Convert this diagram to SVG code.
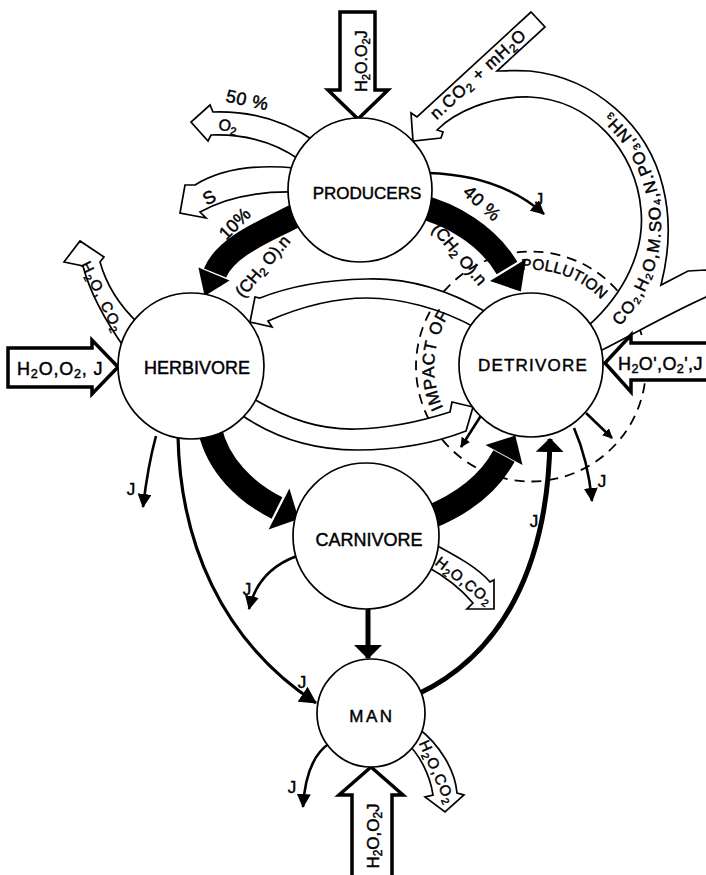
<svg xmlns="http://www.w3.org/2000/svg" width="706" height="875" viewBox="0 0 706 875">
<style>
text{font-family:"Liberation Sans",Arial,"DejaVu Sans",sans-serif;fill:#000;stroke:#000;stroke-width:0.45px}
.nm{font-size:17px;text-anchor:middle}
.lb{font-size:16px;text-anchor:middle}
.j{font-size:17px;text-anchor:middle}
.s{font-size:70%;baseline-shift:-3px}
.band{fill:#fff;stroke:#000;stroke-width:1.7;stroke-linejoin:miter}
.inp{fill:#fff;stroke:#000;stroke-width:3.5;stroke-linejoin:miter}
.blk{fill:none;stroke:#000;stroke-width:24}
.hd{fill:#000}
.thin{fill:none;stroke:#000;stroke-width:2.6}
.med{fill:none;stroke:#000;stroke-width:3.2}
.thick{fill:none;stroke:#000;stroke-width:5}
.node circle{fill:#fff;stroke:#000;stroke-width:1.7}
.dash{fill:none;stroke:#000;stroke-width:1.8;stroke-dasharray:10 7}
</style>
<defs>
<marker id="aj" viewBox="0 0 14 14" refX="13" refY="7" markerWidth="14" markerHeight="14" markerUnits="userSpaceOnUse" orient="auto"><path d="M0,0 L14,7 L0,14 Z"/></marker>
<marker id="am" viewBox="0 0 17 18" refX="16" refY="9" markerWidth="17" markerHeight="18" markerUnits="userSpaceOnUse" orient="auto"><path d="M0,0 L17,9 L0,18 Z"/></marker>
<marker id="ab" viewBox="0 0 14 28" refX="13" refY="14" markerWidth="14" markerHeight="28" markerUnits="userSpaceOnUse" orient="auto"><path d="M0,0 L14,14 L0,28 Z"/></marker>
<marker id="as" viewBox="0 0 10 10" refX="9" refY="5" markerWidth="10" markerHeight="10" markerUnits="userSpaceOnUse" orient="auto"><path d="M0,0 L10,5 L0,10 Z"/></marker>
<path id="tp-recycle" d="M598.3,344.4 A147,147 0 0 0 539.5,79.2"/>
<path id="tp-impact" d="M447,415 A97,97 0 1 1 622.2,333.3"/>
</defs>

<g id="connectors">
  <!-- impact of pollution dashed circle (drawn beneath the bands) -->
  <circle class="dash" cx="531" cy="366.5" r="115"/>

  <!-- recycle band from detrivore to producers, merged with CO2 input, and outflow to right -->
  <path class="band" stroke-width="1.9" d="M598,352 C630,336 668,314 706,297 L716,284 L706,270 L688,271 L661,285 C670,250 670,215 663,187 C648,125 595,78 530,71 C515,70 506,71 497,71 L545,27 L531,12 L417,117 L411,113 L413,141 L441,138 L443,132 L437,130 C455,112 490,96 530,97 C590,100 636,150 641,210 C645,250 625,293 588,326 Z"/>
  <text style="font-size:17px;letter-spacing:1.2px"><textPath href="#tp-recycle" startOffset="28">CO₂,H₂O,M.SO₄,N.PO₃,NH₃</textPath></text>
  <text transform="translate(478,74) rotate(-42.6)" class="lb" y="6" style="font-size:17px;letter-spacing:1px">n.CO<tspan class="s">2</tspan> + mH<tspan class="s">2</tspan>O</text>

  <!-- top input to producers -->
  <path class="inp" d="M340,12 H375 V90 H388 L358,119 L328,90 H340 Z"/>
  <text transform="translate(361,61) rotate(-90)" class="lb" y="6">H<tspan class="s">2</tspan>O.O<tspan class="s">2</tspan>J</text>

  <!-- O2 output -->
  <path class="band" d="M316,142 Q270,110 213,112 L210,105 L191,122 L208,141 L211,135 Q262,133 300,160 Z"/>
  <text transform="translate(246,106) rotate(12)" class="lb" style="font-size:18px;letter-spacing:0.5px">50 %</text>
  <text transform="translate(227,131) rotate(10)" class="lb">O<tspan class="s">2</tspan></text>

  <!-- S output -->
  <path class="band" d="M295,168 Q232,162 195,185 L185,185 L180,213 L206,218 L200,212 Q238,191 293,192 Z"/>
  <text transform="translate(212,203) rotate(-28)" class="lb" style="font-size:18px">S</text>

  <!-- herbivore H2O,CO2 output -->
  <path class="band" d="M126,350 C106,322 90,293 83,266 L64,262 L80,241 L104,257 L100,262 C107,287 120,306 138,323 Z"/>
  <text transform="translate(102,297) rotate(64)" class="lb" y="5" style="font-size:15px;letter-spacing:1.5px">H<tspan class="s">2</tspan>O, CO<tspan class="s">2</tspan></text>

  <!-- white bands between herbivore and detrivore -->
  <path class="band" d="M486,312 C440,285 400,278 367,279 C320,280 285,288 260,298 L255,297 L250,322 L272,327 L268,321 C300,307 335,298 367,298 C400,298 440,308 476,328 Z"/>
  <path class="band" d="M252,398 C290,420 320,430 357,429 C395,428 425,420 450,412 L452,402 L473,407 L466,431 C430,445 395,450 357,450 C310,450 270,435 240,414 Z"/>

  <!-- left input to herbivore -->
  <path class="inp" d="M8,348 H92 V340 L118,367 L92,394 V387 H8 Z"/>
  <text x="17" y="375" style="font-size:18px;letter-spacing:0.8px">H<tspan class="s">2</tspan>O,O<tspan class="s">2</tspan>, J</text>

  <!-- right input to detrivore -->
  <path class="inp" d="M712,343 H631 V335 L605,363 L631,392 V380 H712 Z"/>
  <text x="618" y="370" style="font-size:18px;letter-spacing:0.4px">H<tspan class="s">2</tspan>O',O<tspan class="s">2</tspan>',J</text>

  <!-- black energy bands -->
  <path class="blk" d="M298,214 C272,229 227,244 215,273"/>
  <path class="hd" d="M229.6,280.6 L198.4,267.4 L204.6,296 Z"/>
  <path class="blk" d="M418,206 C452,214 488,236 507,268"/>
  <path class="hd" d="M526,259 L490,281 L520.8,291.5 Z"/>
  <path class="blk" d="M210,430 C218,465 245,492 277,508"/>
  <path class="hd" d="M289.4,488.5 L268.6,529.5 L298.6,518.9 Z"/>
  <path class="blk" d="M428,518 C465,503 490,482 504,456"/>
  <path class="hd" d="M522.5,464.9 L485.5,445.1 L515.3,435.6 Z"/>
  <text transform="translate(239,228) rotate(-45)" class="lb" style="font-size:18px">10%</text>
  <text transform="translate(267,270) rotate(-50)" class="lb" style="font-size:17px">(CH<tspan class="s">2</tspan> O).n</text>
  <text transform="translate(478,208) rotate(42)" class="lb" style="font-size:18px;letter-spacing:0.5px">40 %</text>
  <text transform="translate(455,258) rotate(50)" class="lb" style="font-size:17px">(CH<tspan class="s">2</tspan> O).n</text>

  <!-- impact of pollution labels -->
  <text style="font-size:17px;letter-spacing:0.8px"><textPath href="#tp-impact" startOffset="8">IMPACT OF</textPath></text>
  <text style="font-size:15.5px"><textPath href="#tp-impact" startOffset="193">POLLUTION</textPath></text>

  <!-- J arrows -->
  <path class="thin" d="M428,173 Q500,175 544,214" marker-end="url(#aj)"/>
  <text x="539" y="205" class="j">J</text>
  <path class="thin" d="M156,436 Q148,465 143,507" marker-end="url(#aj)"/>
  <text x="131" y="495" class="j">J</text>
  <path class="thin" d="M297,556 Q258,570 249,609" marker-end="url(#aj)"/>
  <text x="247" y="595" class="j">J</text>
  <path class="med" d="M178,436 C180,540 220,640 316,703" marker-end="url(#am)"/>
  <text x="302" y="688" class="j">J</text>
  <path class="thin" d="M330,743 Q306,758 303,807" marker-end="url(#aj)"/>
  <text x="292" y="793" class="j">J</text>
  <path class="thin" d="M574,428 Q588,460 592,501" marker-end="url(#aj)"/>
  <text x="602" y="487" class="j">J</text>
  <path class="thin" stroke-width="1.8" d="M482,414 L461,447" marker-end="url(#as)"/>
  <path class="thin" stroke-width="1.8" d="M586,413 L612,438" marker-end="url(#as)"/>
  <path class="thick" d="M368,609 V658" marker-end="url(#ab)"/>
  <path class="thick" d="M418,694 C500,655 548,570 550,439" marker-end="url(#ab)"/>
  <text x="534" y="527" class="j">J</text>

  <!-- carnivore H2O,CO2 output -->
  <path class="band" d="M432,543 C460,558 478,568 490,582 L494,580 L494,609 L467,609 L473,603 C462,590 448,578 426,566 Z"/>
  <text transform="translate(464,581) rotate(38)" class="lb" y="5" style="font-size:15px;letter-spacing:1px">H<tspan class="s">2</tspan>O,CO<tspan class="s">2</tspan></text>

  <!-- man H2O,CO2 output -->
  <path class="band" d="M406,742 C420,755 430,775 433,795 L425,797 L445,812 L464,795 L457,793 C455,770 440,745 418,728 Z"/>
  <text transform="translate(437,772) rotate(66)" class="lb" y="5" style="font-size:15px;letter-spacing:1px">H<tspan class="s">2</tspan>O,CO<tspan class="s">2</tspan></text>

  <!-- man bottom input -->
  <path class="inp" d="M352,880 V795 H339 L371,767 L403,795 H392 V880 Z"/>
  <text transform="translate(373,836) rotate(-90)" class="lb" y="6" style="font-size:17px">H<tspan class="s">2</tspan>O,O<tspan class="s">2</tspan>J</text>
</g>

<g id="producers" class="node"><circle cx="360" cy="190" r="72"/><text x="367" y="199" class="nm">PRODUCERS</text></g>
<g id="herbivore" class="node"><circle cx="191" cy="366" r="73"/><text x="197" y="374" class="nm" style="font-size:18px">HERBIVORE</text></g>
<g id="detrivore" class="node"><circle cx="531" cy="365" r="72"/><text x="533" y="371" class="nm" style="letter-spacing:1.2px">DETRIVORE</text></g>
<g id="carnivore" class="node"><circle cx="366" cy="536" r="73"/><text x="369" y="546" class="nm" style="font-size:18px">CARNIVORE</text></g>
<g id="man" class="node"><circle cx="371" cy="713" r="54"/><text x="372" y="722" class="nm" style="letter-spacing:2.5px">MAN</text></g>
</svg>
